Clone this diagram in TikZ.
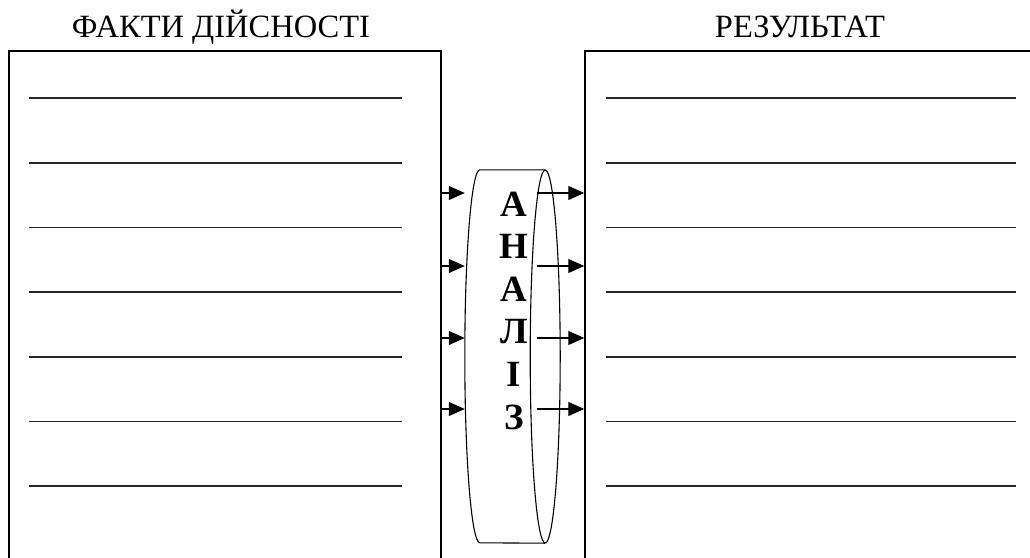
\documentclass[tikz,border=0pt]{standalone}
\usepackage{fontspec}
\setmainfont{Liberation Serif}[BoldFont={Liberation Serif Bold}]
\usetikzlibrary{positioning,arrows.meta}

\begin{document}
\begin{tikzpicture}[x=1pt,y=-1pt,
  sheet/.style={rectangle,draw=black,line width=1.5pt,inner sep=0pt},
  heading/.style={font=\fontsize{32.5}{38}\selectfont,inner sep=0pt,anchor=base},
  letter/.style={font=\bfseries\fontsize{37}{42}\selectfont,inner sep=0pt,anchor=base},
  blank/.style={line width=1.8pt,black!85},
  can/.style={line width=1.1pt},
  arrow/.style={-{Triangle[length=16pt,width=14pt]},line width=1.1pt}
  ]
  \path[use as bounding box,clip] (0,0) rectangle (1030,557);

  \node[sheet,minimum width=432pt,minimum height=549pt] (facts) at (225,325.5) {};
  \node[sheet,minimum width=452pt,minimum height=549pt] (res) at (811,325.5) {};
  \node[minimum width=95pt,minimum height=373pt,inner sep=0pt] (anal) at (512.5,356.5) {};

  \node[heading] (factsT) at ([xshift=-4pt,yshift=13pt]facts.north) {ФАКТИ ДІЙСНОСТІ};
  \node[heading] (resT) at ([xshift=-11pt,yshift=13pt]res.north) {РЕЗУЛЬТАТ};

  % the rolled-up sheet of the analysis
  \draw[can] ([xshift=-15pt]anal.north east) -- ([xshift=15pt]anal.north west)
    arc[start angle=90,end angle=270,x radius=15pt,y radius=186.5pt]
    -- ([xshift=-15pt]anal.south east);
  \draw[can] ([xshift=-15pt]anal.east) ellipse [x radius=15pt,y radius=186.5pt];

  \foreach \ch [count=\i from 0] in {А,Н,А,Л,І,З}
    \node[letter] (ch\i) at (514,216+42.6*\i) {\ch};

  % blank lines to fill in
  \foreach \k in {0,...,6} {
    \draw[blank] (29,98+64.7*\k) -- (402,98+64.7*\k);
    \draw[blank] (606,98+64.7*\k) -- (1016,98+64.7*\k);
  }

  \foreach \y in {193,266,338,409} {
    \draw[arrow] (facts.east |- 0,\y) -- (anal.west |- 0,\y);
    \draw[arrow] ([xshift=-23pt]anal.east |- 0,\y) -- (res.west |- 0,\y);
  }
\end{tikzpicture}
\end{document}
